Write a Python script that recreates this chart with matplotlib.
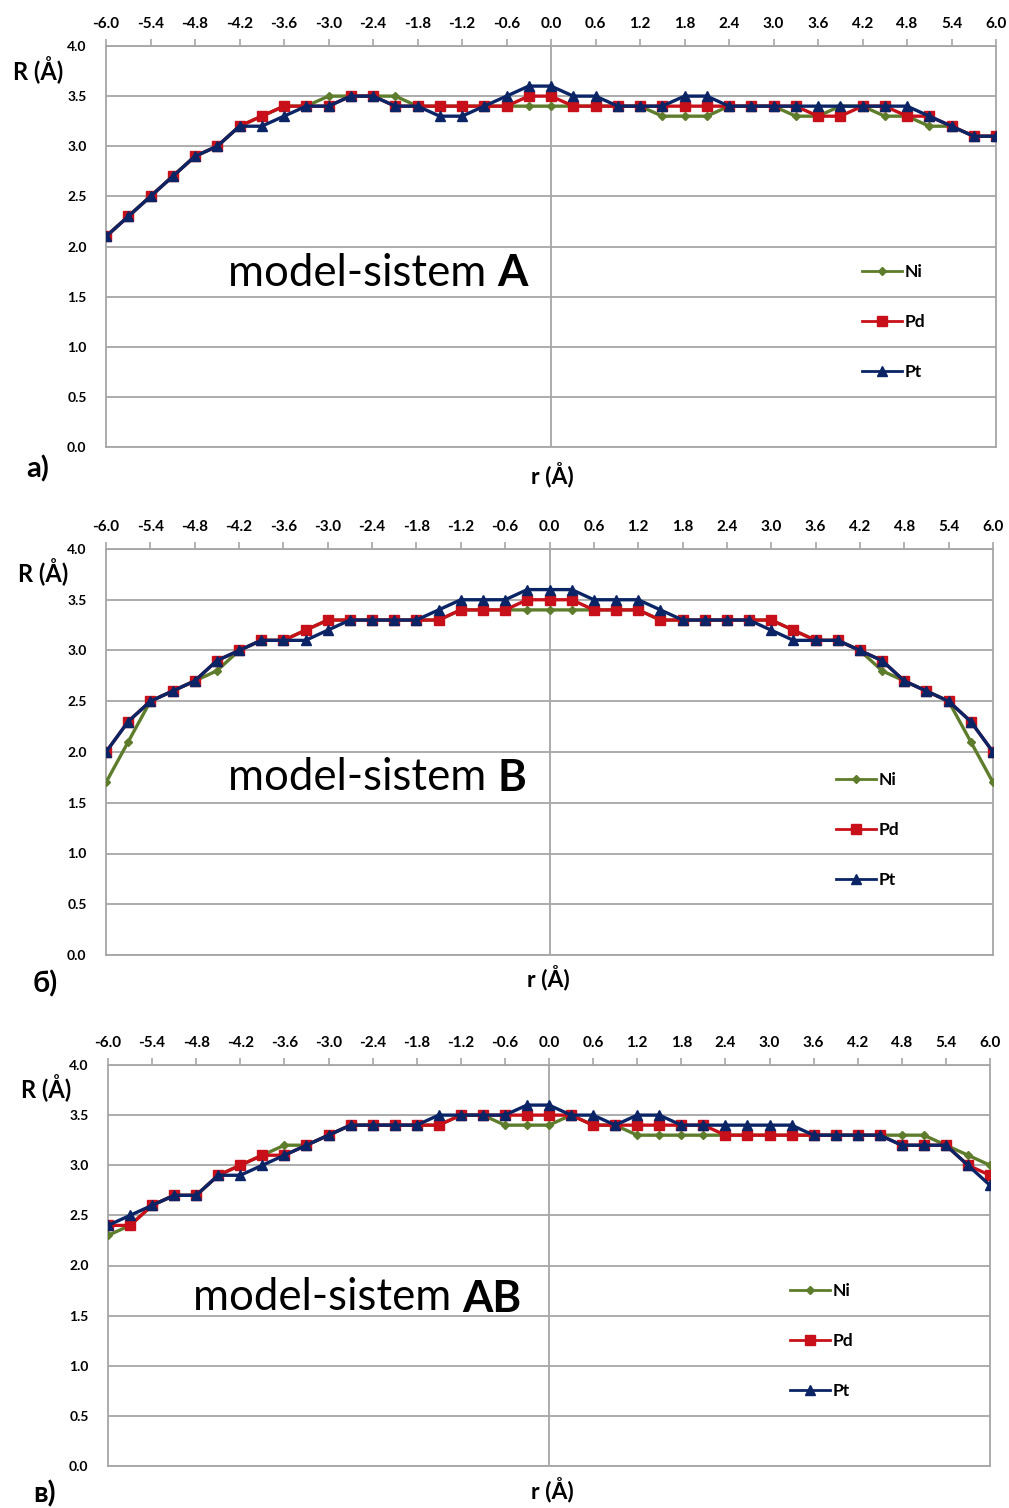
import matplotlib
matplotlib.use("Agg")
import matplotlib.pyplot as plt
import numpy as np

W, H = 1009, 1508
plt.rcParams['font.family'] = ['Lato', 'Open Sans', 'DejaVu Sans']
plt.rcParams['font.weight'] = 'bold'

r = [-6.0, -5.7, -5.4, -5.1, -4.8, -4.5, -4.2, -3.9, -3.6, -3.3, -3.0, -2.7, -2.4, -2.1,
     -1.8, -1.5, -1.2, -0.9, -0.6, -0.3, 0.0, 0.3, 0.6, 0.9, 1.2, 1.5, 1.8, 2.1, 2.4, 2.7,
     3.0, 3.3, 3.6, 3.9, 4.2, 4.5, 4.8, 5.1, 5.4, 5.7, 6.0]

# model-sistem A
A_Ni = [2.1, 2.3, 2.5, 2.7, 2.9, 3.0, 3.2, 3.3, 3.4, 3.4, 3.5, 3.5, 3.5, 3.5,
        3.4, 3.4, 3.4, 3.4, 3.4, 3.4, 3.4, 3.4, 3.4, 3.4, 3.4, 3.3, 3.3, 3.3, 3.4, 3.4,
        3.4, 3.3, 3.3, 3.4, 3.4, 3.3, 3.3, 3.2, 3.2, 3.1, 3.1]
A_Pd = [2.1, 2.3, 2.5, 2.7, 2.9, 3.0, 3.2, 3.3, 3.4, 3.4, 3.4, 3.5, 3.5, 3.4,
        3.4, 3.4, 3.4, 3.4, 3.4, 3.5, 3.5, 3.4, 3.4, 3.4, 3.4, 3.4, 3.4, 3.4, 3.4, 3.4,
        3.4, 3.4, 3.3, 3.3, 3.4, 3.4, 3.3, 3.3, 3.2, 3.1, 3.1]
A_Pt = [2.1, 2.3, 2.5, 2.7, 2.9, 3.0, 3.2, 3.2, 3.3, 3.4, 3.4, 3.5, 3.5, 3.4,
        3.4, 3.3, 3.3, 3.4, 3.5, 3.6, 3.6, 3.5, 3.5, 3.4, 3.4, 3.4, 3.5, 3.5, 3.4, 3.4,
        3.4, 3.4, 3.4, 3.4, 3.4, 3.4, 3.4, 3.3, 3.2, 3.1, 3.1]

# model-sistem B
B_Ni = [1.7, 2.1, 2.5, 2.6, 2.7, 2.8, 3.0, 3.1, 3.1, 3.2, 3.3, 3.3, 3.3, 3.3,
        3.3, 3.3, 3.4, 3.4, 3.4, 3.4, 3.4, 3.4, 3.4, 3.4, 3.4, 3.3, 3.3, 3.3, 3.3, 3.3,
        3.3, 3.2, 3.1, 3.1, 3.0, 2.8, 2.7, 2.6, 2.5, 2.1, 1.7]
B_Pd = [2.0, 2.3, 2.5, 2.6, 2.7, 2.9, 3.0, 3.1, 3.1, 3.2, 3.3, 3.3, 3.3, 3.3,
        3.3, 3.3, 3.4, 3.4, 3.4, 3.5, 3.5, 3.5, 3.4, 3.4, 3.4, 3.3, 3.3, 3.3, 3.3, 3.3,
        3.3, 3.2, 3.1, 3.1, 3.0, 2.9, 2.7, 2.6, 2.5, 2.3, 2.0]
B_Pt = [2.0, 2.3, 2.5, 2.6, 2.7, 2.9, 3.0, 3.1, 3.1, 3.1, 3.2, 3.3, 3.3, 3.3,
        3.3, 3.4, 3.5, 3.5, 3.5, 3.6, 3.6, 3.6, 3.5, 3.5, 3.5, 3.4, 3.3, 3.3, 3.3, 3.3,
        3.2, 3.1, 3.1, 3.1, 3.0, 2.9, 2.7, 2.6, 2.5, 2.3, 2.0]

# model-sistem AB
C_Ni = [2.3, 2.4, 2.6, 2.7, 2.7, 2.9, 3.0, 3.1, 3.2, 3.2, 3.3, 3.4, 3.4, 3.4,
        3.4, 3.4, 3.5, 3.5, 3.4, 3.4, 3.4, 3.5, 3.4, 3.4, 3.3, 3.3, 3.3, 3.3, 3.3, 3.3,
        3.3, 3.3, 3.3, 3.3, 3.3, 3.3, 3.3, 3.3, 3.2, 3.1, 3.0]
C_Pd = [2.4, 2.4, 2.6, 2.7, 2.7, 2.9, 3.0, 3.1, 3.1, 3.2, 3.3, 3.4, 3.4, 3.4,
        3.4, 3.4, 3.5, 3.5, 3.5, 3.5, 3.5, 3.5, 3.4, 3.4, 3.4, 3.4, 3.4, 3.4, 3.3, 3.3,
        3.3, 3.3, 3.3, 3.3, 3.3, 3.3, 3.2, 3.2, 3.2, 3.0, 2.9]
C_Pt = [2.4, 2.5, 2.6, 2.7, 2.7, 2.9, 2.9, 3.0, 3.1, 3.2, 3.3, 3.4, 3.4, 3.4,
        3.4, 3.5, 3.5, 3.5, 3.5, 3.6, 3.6, 3.5, 3.5, 3.4, 3.5, 3.5, 3.4, 3.4, 3.4, 3.4,
        3.4, 3.4, 3.3, 3.3, 3.3, 3.3, 3.2, 3.2, 3.2, 3.0, 2.8]

x_ticks = [-6.0, -5.4, -4.8, -4.2, -3.6, -3.0, -2.4, -1.8, -1.2, -0.6, 0.0,
           0.6, 1.2, 1.8, 2.4, 3.0, 3.6, 4.2, 4.8, 5.4, 6.0]
x_tick_labels = ['-6.0', '-5.4', '-4.8', '-4.2', '-3.6', '-3.0', '-2.4', '-1.8', '-1.2', '-0.6', '0.0',
                 '0.6', '1.2', '1.8', '2.4', '3.0', '3.6', '4.2', '4.8', '5.4', '6.0']
y_ticks = [0.0, 0.5, 1.0, 1.5, 2.0, 2.5, 3.0, 3.5, 4.0]
y_tick_labels = ['0.0', '0.5', '1.0', '1.5', '2.0', '2.5', '3.0', '3.5', '4.0']

series_names = ['Ni', 'Pd', 'Pt']
panel_titles = ['A', 'B', 'AB']
panel_letters = ['а)', 'б)', 'в)']
panels_data = [(A_Ni, A_Pd, A_Pt), (B_Ni, B_Pd, B_Pt), (C_Ni, C_Pd, C_Pt)]

colors = ['#5E7D2C', '#C8101A', '#0B2466']
markers = ['D', 's', '^']
msizes = [4.0, 6.5, 7.0]

# layout (pixels): left, right, top, bottom of plot area
boxes = [(106, 996, 46, 447), (106, 993, 549, 955), (108, 990, 1065, 1466)]
title_pos = [(228, 273), (228, 778), (193, 1298)]
legend_pos = [(862, 322), (836, 830), (790, 1341)]
ylab_pos = [(38, 70), (43, 572), (46, 1088)]
xlab_pos = [(552, 475), (548, 978), (552, 1490)]
letter_pos = [(38, 469), (45, 984), (45, 1494)]

grid_c = '#A6A6A6'

fig = plt.figure(figsize=(W / 100, H / 100), dpi=100)

for i in range(3):
    l, rr, t, b = boxes[i]
    ax = fig.add_axes([l / W, 1 - b / H, (rr - l) / W, (b - t) / H])
    for j, yv in enumerate(panels_data[i]):
        ax.plot(r, yv, color=colors[j], marker=markers[j], markersize=msizes[j],
                linewidth=2.4, label=series_names[j], zorder=3 + j)
    ax.set_xlim(-6.0, 6.0)
    ax.set_ylim(0.0, 4.0)
    ax.set_yticks(y_ticks)
    ax.set_yticklabels(y_tick_labels, fontweight='bold')
    ax.set_xticks(x_ticks)
    ax.set_xticklabels(x_tick_labels, fontweight='bold')
    ax.xaxis.tick_top()
    ax.tick_params(axis='x', which='both', direction='out', length=5, width=1.2,
                   color=grid_c, pad=6, labelsize=11)
    ax.tick_params(axis='y', length=0, pad=14, labelsize=10)
    ax.grid(axis='y', color=grid_c, linewidth=1.3)
    ax.axvline(0.0, color=grid_c, linewidth=1.3, zorder=1)
    for s in ax.spines.values():
        s.set_color(grid_c)
        s.set_linewidth(1.3)
    ax.set_axisbelow(True)

    leg_x, leg_y = legend_pos[i]
    leg = ax.legend(loc='center left', bbox_to_anchor=(leg_x / W, 1 - leg_y / H),
                    bbox_transform=fig.transFigure, frameon=False, borderpad=0,
                    borderaxespad=0, handlelength=2.3, handletextpad=0.15,
                    labelspacing=1.95, prop={'weight': 'bold', 'size': 12.5})
    for hl in leg.get_lines():
        hl.set_linewidth(2.0)

    tx, ty = title_pos[i]
    t1 = fig.text(tx / W, 1 - ty / H, 'model-sistem ', fontsize=31.5,
                  fontweight='normal', ha='left', va='center')
    ax.annotate(panel_titles[i], xy=(1, 0), xycoords=t1, fontsize=31.5,
                fontweight='bold', ha='left', va='bottom')

    yx, yy = ylab_pos[i]
    fig.text(yx / W, 1 - yy / H, 'R (Å)', fontsize=17, fontweight='bold',
             ha='center', va='center')
    xx, xy = xlab_pos[i]
    fig.text(xx / W, 1 - xy / H, 'r (Å)', fontsize=16.5, fontweight='bold',
             ha='center', va='center')
    lx, ly = letter_pos[i]
    fig.text(lx / W, 1 - ly / H, panel_letters[i], fontsize=21, fontweight='bold',
             ha='center', va='center')

fig.savefig('out.png', dpi=100)
